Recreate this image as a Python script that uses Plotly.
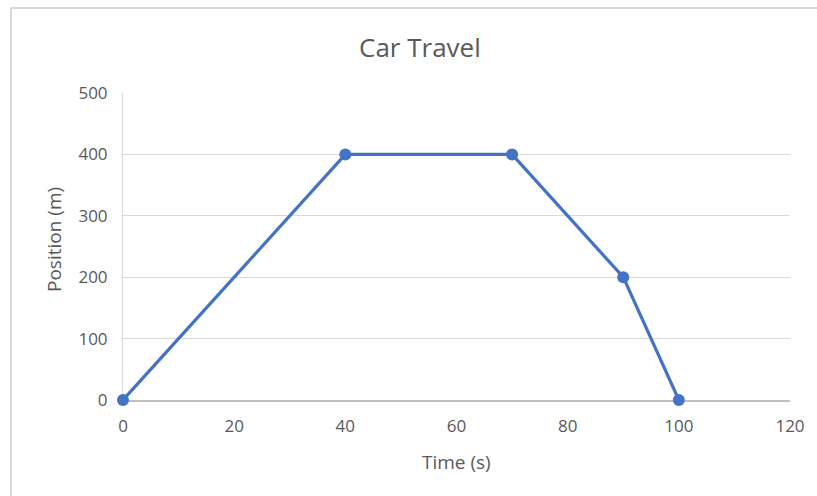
import plotly.graph_objects as go

time_s = [0, 40, 70, 90, 100]
position_m = [0, 400, 400, 200, 0]

W, H = 817, 496
L, R, T, B = 123, 27, 93, 96
pw, ph = W - L - R, H - T - B

def px_x(x):
    return (x - L) / pw

def px_y(y):
    return (H - B - y) / ph

text_color = "#595959"
font = "Open Sans, Noto Sans, sans-serif"

fig = go.Figure()
fig.add_trace(go.Scatter(
    x=time_s, y=position_m, mode="lines+markers",
    line=dict(color="#4472C4", width=3.2),
    marker=dict(color="#4472C4", size=12),
    cliponaxis=False, showlegend=False,
))

fig.update_layout(
    width=W, height=H,
    margin=dict(l=L, r=R, t=T, b=B),
    paper_bgcolor="white", plot_bgcolor="white",
    font=dict(family=font, color=text_color, size=17),
    xaxis=dict(range=[0, 120], dtick=20, showgrid=False, zeroline=False,
               showline=True, linecolor="#BFBFBF", linewidth=1.5, layer="below traces",
               ticks="", ticklabelstandoff=10, tickfont=dict(size=17)),
    yaxis=dict(range=[0, 500], dtick=100, showgrid=True, gridcolor="#D9D9D9",
               gridwidth=1, zeroline=False, showline=True, linecolor="#D9D9D9",
               layer="below traces",
               ticks="", ticklabelstandoff=11, tickfont=dict(size=17)),
    annotations=[
        dict(text="Car Travel", x=px_x(420), y=px_y(47), xref="paper", yref="paper",
             xanchor="center", yanchor="middle",
             showarrow=False, font=dict(size=26, color=text_color)),
        dict(text="Time (s)", x=px_x(456), y=px_y(462), xref="paper", yref="paper",
             xanchor="center", yanchor="middle",
             showarrow=False, font=dict(size=19, color=text_color)),
        dict(text="Position (m)", x=px_x(54), y=px_y(240), xref="paper", yref="paper",
             xanchor="center", yanchor="middle",
             showarrow=False, textangle=-90, font=dict(size=19, color=text_color)),
    ],
    shapes=[
        dict(type="rect", xref="paper", yref="paper",
             x0=px_x(11), y0=px_y(H + 20), x1=px_x(W + 20), y1=px_y(8),
             line=dict(color="#D9D9D9", width=2), fillcolor="rgba(0,0,0,0)", layer="below"),
    ],
)

fig.write_html("out.html")
